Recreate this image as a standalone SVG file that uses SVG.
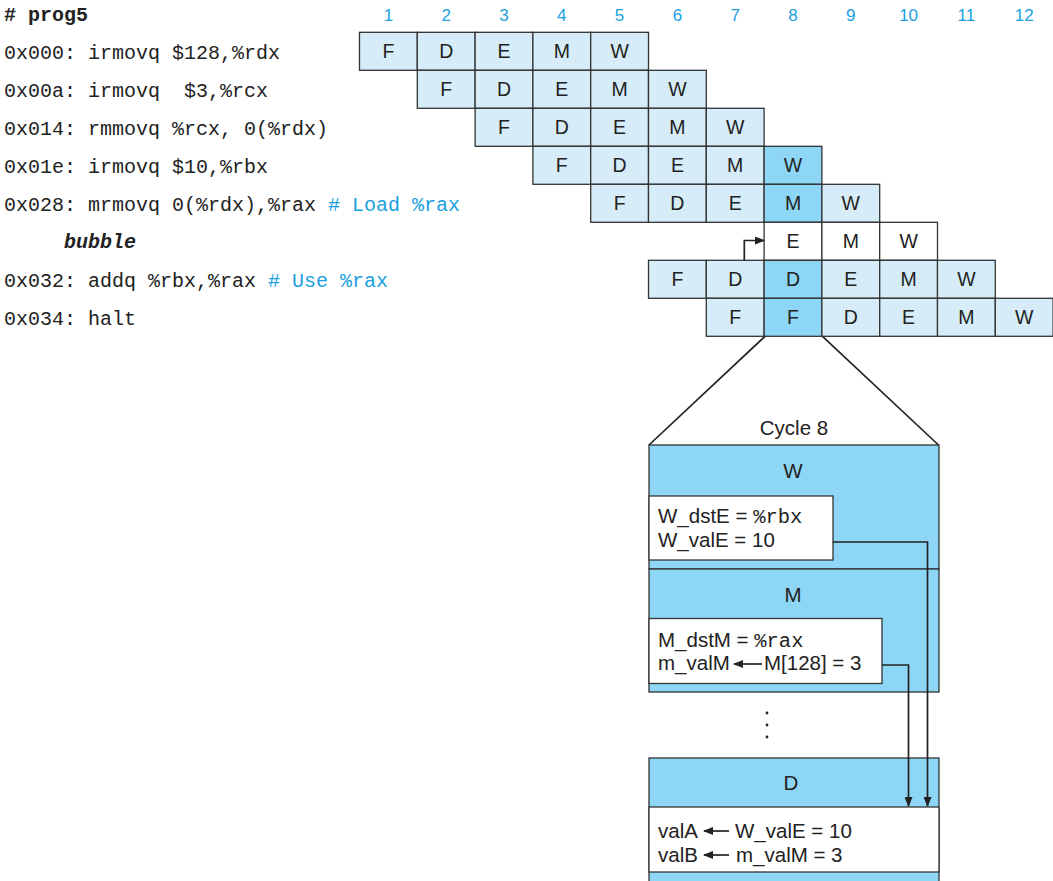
<svg xmlns="http://www.w3.org/2000/svg" width="1053" height="881" viewBox="0 0 1053 881">
<style>
.c{fill:#d6edf9;stroke:#333;stroke-width:1.3}
.h{fill:#8ed6f5;stroke:#333;stroke-width:1.3}
.w{fill:#fff;stroke:#333;stroke-width:1.3}
.l{font-family:"Liberation Sans",Arial,sans-serif;font-size:19.5px;text-anchor:middle;fill:#222}
.code{font-family:"Liberation Mono","Courier New",monospace;font-size:20px;white-space:pre;fill:#222}
.cm{fill:#1aa0e0}
.num{font-family:"Liberation Sans",Arial,sans-serif;font-size:17px;text-anchor:middle;fill:#1aa0e0}
.bt{font-family:"Liberation Sans",Arial,sans-serif;font-size:20.5px;fill:#222}
.mono{font-family:"Liberation Mono","Courier New",monospace}
.ln{fill:none;stroke:#222;stroke-width:1.7}
</style>
<defs>
<marker id="ah" markerWidth="10" markerHeight="8" refX="9" refY="4" orient="auto" markerUnits="userSpaceOnUse">
<path d="M0,0 L10,4 L0,8 Z" fill="#222"/>
</marker>
</defs>

<g id="code">
<text class="code" x="4" y="21" font-weight="bold"># prog5</text>
<text class="code" x="4" y="59">0x000: irmovq $128,%rdx</text>
<text class="code" x="4" y="97">0x00a: irmovq  $3,%rcx</text>
<text class="code" x="4" y="135">0x014: rmmovq %rcx, 0(%rdx)</text>
<text class="code" x="4" y="173">0x01e: irmovq $10,%rbx</text>
<text class="code" x="4" y="211">0x028: mrmovq 0(%rdx),%rax <tspan class="cm"># Load %rax</tspan></text>
<text class="code" x="64" y="248" font-weight="bold" font-style="italic">bubble</text>
<text class="code" x="4" y="287">0x032: addq %rbx,%rax <tspan class="cm"># Use %rax</tspan></text>
<text class="code" x="4" y="325">0x034: halt</text>
</g>

<g id="cycles">
<text class="num" x="388.4" y="21">1</text>
<text class="num" x="446.2" y="21">2</text>
<text class="num" x="504.0" y="21">3</text>
<text class="num" x="561.8" y="21">4</text>
<text class="num" x="619.6" y="21">5</text>
<text class="num" x="677.4" y="21">6</text>
<text class="num" x="735.2" y="21">7</text>
<text class="num" x="793.0" y="21">8</text>
<text class="num" x="850.8" y="21">9</text>
<text class="num" x="908.6" y="21">10</text>
<text class="num" x="966.4" y="21">11</text>
<text class="num" x="1024.2" y="21">12</text>
</g>

<g id="row1">
<rect class="c" x="359.5" y="32.3" width="57.8" height="38"/><text class="l" x="388.4" y="58.3">F</text>
<rect class="c" x="417.3" y="32.3" width="57.8" height="38"/><text class="l" x="446.2" y="58.3">D</text>
<rect class="c" x="475.1" y="32.3" width="57.8" height="38"/><text class="l" x="504.0" y="58.3">E</text>
<rect class="c" x="532.9" y="32.3" width="57.8" height="38"/><text class="l" x="561.8" y="58.3">M</text>
<rect class="c" x="590.7" y="32.3" width="57.8" height="38"/><text class="l" x="619.6" y="58.3">W</text>
</g>
<g id="row2">
<rect class="c" x="417.3" y="70.3" width="57.8" height="38"/><text class="l" x="446.2" y="96.3">F</text>
<rect class="c" x="475.1" y="70.3" width="57.8" height="38"/><text class="l" x="504.0" y="96.3">D</text>
<rect class="c" x="532.9" y="70.3" width="57.8" height="38"/><text class="l" x="561.8" y="96.3">E</text>
<rect class="c" x="590.7" y="70.3" width="57.8" height="38"/><text class="l" x="619.6" y="96.3">M</text>
<rect class="c" x="648.5" y="70.3" width="57.8" height="38"/><text class="l" x="677.4" y="96.3">W</text>
</g>
<g id="row3">
<rect class="c" x="475.1" y="108.3" width="57.8" height="38"/><text class="l" x="504.0" y="134.3">F</text>
<rect class="c" x="532.9" y="108.3" width="57.8" height="38"/><text class="l" x="561.8" y="134.3">D</text>
<rect class="c" x="590.7" y="108.3" width="57.8" height="38"/><text class="l" x="619.6" y="134.3">E</text>
<rect class="c" x="648.5" y="108.3" width="57.8" height="38"/><text class="l" x="677.4" y="134.3">M</text>
<rect class="c" x="706.3" y="108.3" width="57.8" height="38"/><text class="l" x="735.2" y="134.3">W</text>
</g>
<g id="row4">
<rect class="c" x="532.9" y="146.3" width="57.8" height="38"/><text class="l" x="561.8" y="172.3">F</text>
<rect class="c" x="590.7" y="146.3" width="57.8" height="38"/><text class="l" x="619.6" y="172.3">D</text>
<rect class="c" x="648.5" y="146.3" width="57.8" height="38"/><text class="l" x="677.4" y="172.3">E</text>
<rect class="c" x="706.3" y="146.3" width="57.8" height="38"/><text class="l" x="735.2" y="172.3">M</text>
<rect class="h" x="764.1" y="146.3" width="57.8" height="38"/><text class="l" x="793.0" y="172.3">W</text>
</g>
<g id="row5">
<rect class="c" x="590.7" y="184.3" width="57.8" height="38"/><text class="l" x="619.6" y="210.3">F</text>
<rect class="c" x="648.5" y="184.3" width="57.8" height="38"/><text class="l" x="677.4" y="210.3">D</text>
<rect class="c" x="706.3" y="184.3" width="57.8" height="38"/><text class="l" x="735.2" y="210.3">E</text>
<rect class="h" x="764.1" y="184.3" width="57.8" height="38"/><text class="l" x="793.0" y="210.3">M</text>
<rect class="c" x="821.9" y="184.3" width="57.8" height="38"/><text class="l" x="850.8" y="210.3">W</text>
</g>
<g id="row6-bubble">
<rect class="w" x="764.1" y="222.3" width="57.8" height="38"/><text class="l" x="793.0" y="248.3">E</text>
<rect class="w" x="821.9" y="222.3" width="57.8" height="38"/><text class="l" x="850.8" y="248.3">M</text>
<rect class="w" x="879.7" y="222.3" width="57.8" height="38"/><text class="l" x="908.6" y="248.3">W</text>
</g>
<g id="row7">
<rect class="c" x="648.5" y="260.3" width="57.8" height="38"/><text class="l" x="677.4" y="286.3">F</text>
<rect class="c" x="706.3" y="260.3" width="57.8" height="38"/><text class="l" x="735.2" y="286.3">D</text>
<rect class="h" x="764.1" y="260.3" width="57.8" height="38"/><text class="l" x="793.0" y="286.3">D</text>
<rect class="c" x="821.9" y="260.3" width="57.8" height="38"/><text class="l" x="850.8" y="286.3">E</text>
<rect class="c" x="879.7" y="260.3" width="57.8" height="38"/><text class="l" x="908.6" y="286.3">M</text>
<rect class="c" x="937.5" y="260.3" width="57.8" height="38"/><text class="l" x="966.4" y="286.3">W</text>
</g>
<g id="row8">
<rect class="c" x="706.3" y="298.3" width="57.8" height="38"/><text class="l" x="735.2" y="324.3">F</text>
<rect class="h" x="764.1" y="298.3" width="57.8" height="38"/><text class="l" x="793.0" y="324.3">F</text>
<rect class="c" x="821.9" y="298.3" width="57.8" height="38"/><text class="l" x="850.8" y="324.3">D</text>
<rect class="c" x="879.7" y="298.3" width="57.8" height="38"/><text class="l" x="908.6" y="324.3">E</text>
<rect class="c" x="937.5" y="298.3" width="57.8" height="38"/><text class="l" x="966.4" y="324.3">M</text>
<rect class="c" x="995.3" y="298.3" width="57.8" height="38"/><text class="l" x="1024.2" y="324.3">W</text>
</g>

<g id="cycle8">
<text class="bt" x="794" y="435" text-anchor="middle">Cycle 8</text>
<g id="stageW">
<rect class="h" x="649" y="445" width="290" height="124"/>
<text class="bt" x="793" y="478" text-anchor="middle">W</text>
<rect class="w" x="649" y="496" width="184" height="64"/>
<text class="bt" x="658" y="523">W_dstE = <tspan class="mono">%rbx</tspan></text>
<text class="bt" x="658" y="547">W_valE = 10</text>
</g>
<g id="stageM">
<rect class="h" x="649" y="569" width="290" height="123"/>
<text class="bt" x="793" y="602" text-anchor="middle">M</text>
<rect class="w" x="649" y="618.5" width="233" height="65"/>
<text class="bt" x="658" y="647">M_dstM = <tspan class="mono">%rax</tspan></text>
<text class="bt" x="658" y="670">m_valM</text>
<text class="bt" x="764" y="670">M[128] = 3</text>
<line class="ln" x1="762" y1="664" x2="734" y2="664" marker-end="url(#ah)"/>
</g>
<g id="dots">
<circle cx="767" cy="713" r="1.4" fill="#222"/>
<circle cx="767" cy="725" r="1.4" fill="#222"/>
<circle cx="767" cy="737" r="1.4" fill="#222"/>
</g>
<g id="stageD">
<rect class="h" x="649" y="758" width="290" height="130"/>
<text class="bt" x="791" y="790" text-anchor="middle">D</text>
<rect class="w" x="649" y="807" width="290" height="65"/>
<text class="bt" x="658" y="838">valA</text>
<text class="bt" x="735" y="838">W_valE = 10</text>
<line class="ln" x1="729" y1="831" x2="704" y2="831" marker-end="url(#ah)"/>
<text class="bt" x="658" y="862">valB</text>
<text class="bt" x="736" y="862">m_valM = 3</text>
<line class="ln" x1="729" y1="855" x2="704" y2="855" marker-end="url(#ah)"/>
</g>
</g>

<g id="connectors">
<path class="ln" d="M744.3,260.3 V240.5 H764" marker-end="url(#ah)"/>
<line class="ln" x1="765" y1="336.3" x2="649" y2="445" stroke-width="1.2"/>
<line class="ln" x1="822.5" y1="336.3" x2="938.5" y2="445" stroke-width="1.2"/>
<path class="ln" d="M833,542 H927.5 V806" marker-end="url(#ah)"/>
<path class="ln" d="M882,665 H908.5 V806" marker-end="url(#ah)"/>
</g>
</svg>
